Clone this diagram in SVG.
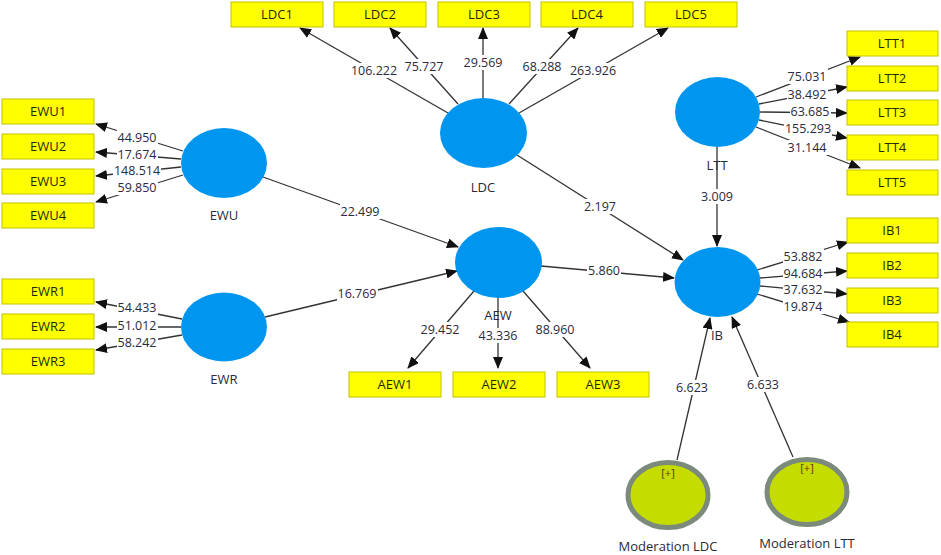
<svg xmlns="http://www.w3.org/2000/svg" width="941" height="555" viewBox="0 0 941 555">
<style>
.bg{fill:#ffffff}
.lv{fill:#0096f0}
.mod{fill:#c4dc00;stroke:#7b8a7a;stroke-width:5}
.box{fill:#ffff00;stroke:#c2c200;stroke-width:1}
.bt{font-family:"Open Sans","Noto Sans",sans-serif;font-size:13px;fill:#1e2a10;text-anchor:middle}
.nt{font-family:"Open Sans","Noto Sans",sans-serif;font-size:13px;fill:#2a2a3a;text-anchor:middle}
.num{font-family:"Open Sans","Noto Sans",sans-serif;font-size:12.5px;fill:#2a2a40;text-anchor:middle}
.lb{fill:#ffffff}
.pl{font-family:"Open Sans","Noto Sans",sans-serif;font-size:11px;fill:#5a3a10;text-anchor:middle}
.ln{stroke:#333333;stroke-width:1.3;fill:none;marker-end:url(#ah)}
</style>
<defs>
<marker id="ah" markerWidth="12" markerHeight="10" refX="11" refY="5" orient="auto" markerUnits="userSpaceOnUse">
<path d="M0,0 L12,5 L0,10 Z" fill="#111111"/>
</marker>
</defs>
<rect class="bg" x="0" y="0" width="941" height="555"/>

<g id="connectors">
<!-- LDC indicators -->
<line class="ln" x1="448" y1="113" x2="300" y2="28"/>
<line class="ln" x1="458" y1="104" x2="390" y2="28"/>
<line class="ln" x1="483" y1="98" x2="483" y2="28"/>
<line class="ln" x1="509" y1="104" x2="578" y2="28"/>
<line class="ln" x1="519" y1="113" x2="668" y2="28"/>
<!-- EWU indicators -->
<line class="ln" x1="183" y1="151" x2="96" y2="124"/>
<line class="ln" x1="181" y1="159" x2="96" y2="152"/>
<line class="ln" x1="181" y1="167" x2="96" y2="176"/>
<line class="ln" x1="183" y1="175" x2="96" y2="202"/>
<!-- EWR indicators -->
<line class="ln" x1="182" y1="319" x2="96" y2="302"/>
<line class="ln" x1="181" y1="327" x2="96" y2="327"/>
<line class="ln" x1="182" y1="335" x2="96" y2="350"/>
<!-- LTT indicators -->
<line class="ln" x1="756" y1="97" x2="860" y2="57"/>
<line class="ln" x1="759" y1="104" x2="847" y2="87"/>
<line class="ln" x1="760" y1="112" x2="847" y2="113"/>
<line class="ln" x1="759" y1="120" x2="847" y2="138"/>
<line class="ln" x1="756" y1="127" x2="860" y2="168"/>
<!-- IB indicators -->
<line class="ln" x1="757" y1="270" x2="848" y2="242"/>
<line class="ln" x1="760" y1="278" x2="847" y2="271"/>
<line class="ln" x1="760" y1="286" x2="847" y2="294"/>
<line class="ln" x1="757" y1="294" x2="849" y2="322"/>
<!-- AEW indicators -->
<line class="ln" x1="474" y1="291" x2="408" y2="368"/>
<line class="ln" x1="498" y1="298" x2="498" y2="368"/>
<line class="ln" x1="523" y1="291" x2="590" y2="368"/>
<!-- structural paths -->
<line class="ln" x1="263" y1="177" x2="458" y2="247"/>
<line class="ln" x1="265" y1="317" x2="457" y2="271"/>
<line class="ln" x1="541" y1="266" x2="674" y2="278"/>
<line class="ln" x1="517" y1="155" x2="683" y2="260"/>
<line class="ln" x1="717" y1="147" x2="717" y2="246"/>
<line class="ln" x1="677" y1="460" x2="710" y2="318"/>
<line class="ln" x1="793" y1="457" x2="732" y2="317"/>

<!-- path label backgrounds -->
<rect class="lb" x="350" y="63" width="48" height="15"/>
<rect class="lb" x="404" y="59" width="41" height="15"/>
<rect class="lb" x="463" y="55" width="41" height="15"/>
<rect class="lb" x="522" y="59" width="41" height="15"/>
<rect class="lb" x="569" y="63" width="48" height="15"/>
<rect class="lb" x="117" y="130" width="41" height="15"/>
<rect class="lb" x="117" y="147" width="41" height="15"/>
<rect class="lb" x="113" y="163" width="48" height="15"/>
<rect class="lb" x="117" y="180" width="41" height="15"/>
<rect class="lb" x="117" y="300" width="41" height="15"/>
<rect class="lb" x="117" y="318" width="41" height="15"/>
<rect class="lb" x="117" y="335" width="41" height="15"/>
<rect class="lb" x="787" y="69" width="41" height="15"/>
<rect class="lb" x="787" y="87" width="41" height="15"/>
<rect class="lb" x="790" y="104" width="41" height="15"/>
<rect class="lb" x="784" y="121" width="48" height="15"/>
<rect class="lb" x="787" y="140" width="41" height="15"/>
<rect class="lb" x="783" y="249" width="41" height="15"/>
<rect class="lb" x="783" y="266" width="41" height="15"/>
<rect class="lb" x="783" y="282" width="41" height="15"/>
<rect class="lb" x="783" y="299" width="41" height="15"/>
<rect class="lb" x="420" y="322" width="41" height="15"/>
<rect class="lb" x="478" y="328" width="41" height="15"/>
<rect class="lb" x="535" y="322" width="41" height="15"/>
<rect class="lb" x="340" y="204" width="41" height="15"/>
<rect class="lb" x="337" y="286" width="41" height="15"/>
<rect class="lb" x="587" y="263" width="34" height="15"/>
<rect class="lb" x="583" y="199" width="34" height="15"/>
<rect class="lb" x="700" y="189" width="34" height="15"/>
<rect class="lb" x="675" y="380" width="34" height="15"/>
<rect class="lb" x="746" y="377" width="34" height="15"/>

<!-- path labels -->
<text class="num" x="374" y="75">106.222</text>
<text class="num" x="424" y="71">75.727</text>
<text class="num" x="483" y="67">29.569</text>
<text class="num" x="542" y="71">68.288</text>
<text class="num" x="593" y="75">263.926</text>
<text class="num" x="137" y="142">44.950</text>
<text class="num" x="137" y="159">17.674</text>
<text class="num" x="137" y="175">148.514</text>
<text class="num" x="137" y="192">59.850</text>
<text class="num" x="137" y="312">54.433</text>
<text class="num" x="137" y="330">51.012</text>
<text class="num" x="137" y="347">58.242</text>
<text class="num" x="807" y="81">75.031</text>
<text class="num" x="807" y="99">38.492</text>
<text class="num" x="810" y="116">63.685</text>
<text class="num" x="808" y="133">155.293</text>
<text class="num" x="807" y="152">31.144</text>
<text class="num" x="803" y="261">53.882</text>
<text class="num" x="803" y="278">94.684</text>
<text class="num" x="803" y="294">37.632</text>
<text class="num" x="803" y="311">19.874</text>
<text class="num" x="440" y="334">29.452</text>
<text class="num" x="498" y="340">43.336</text>
<text class="num" x="555" y="334">88.960</text>
<text class="num" x="360" y="216">22.499</text>
<text class="num" x="357" y="298">16.769</text>
<text class="num" x="604" y="275">5.860</text>
<text class="num" x="600" y="211">2.197</text>
<text class="num" x="717" y="201">3.009</text>
<text class="num" x="692" y="392">6.623</text>
<text class="num" x="763" y="389">6.633</text>
</g>

<g id="LDC"><ellipse class="lv" cx="483.5" cy="133" rx="43.5" ry="35"/><text class="nt" x="483" y="192">LDC</text></g>
<g id="EWU"><ellipse class="lv" cx="224" cy="163" rx="43" ry="35"/><text class="nt" x="224" y="220">EWU</text></g>
<g id="EWR"><ellipse class="lv" cx="224" cy="327" rx="43" ry="34.5"/><text class="nt" x="224" y="384">EWR</text></g>
<g id="AEW"><ellipse class="lv" cx="498.5" cy="262.5" rx="43.5" ry="35.5"/><text class="nt" x="498" y="320">AEW</text></g>
<g id="LTT"><ellipse class="lv" cx="717.5" cy="112" rx="42.5" ry="35"/><text class="nt" x="717" y="170">LTT</text></g>
<g id="IB"><ellipse class="lv" cx="717.5" cy="282" rx="43" ry="35"/><text class="nt" x="717" y="340">IB</text></g>
<g id="ModerationLDC"><ellipse class="mod" cx="668" cy="495" rx="40" ry="32.5"/><text class="pl" x="668" y="477">[+]</text><text class="nt" x="668" y="551">Moderation LDC</text></g>
<g id="ModerationLTT"><ellipse class="mod" cx="807" cy="492" rx="40" ry="32.5"/><text class="pl" x="807" y="472">[+]</text><text class="nt" x="807" y="548">Moderation LTT</text></g>

<g id="LDC1"><rect class="box" x="231" y="2" width="92" height="25"/><text class="bt" x="277" y="19">LDC1</text></g>
<g id="LDC2"><rect class="box" x="334" y="2" width="92" height="25"/><text class="bt" x="380" y="19">LDC2</text></g>
<g id="LDC3"><rect class="box" x="438" y="2" width="92" height="25"/><text class="bt" x="484" y="19">LDC3</text></g>
<g id="LDC4"><rect class="box" x="541" y="2" width="92" height="25"/><text class="bt" x="587" y="19">LDC4</text></g>
<g id="LDC5"><rect class="box" x="645" y="2" width="92" height="25"/><text class="bt" x="691" y="19">LDC5</text></g>

<g id="EWU1"><rect class="box" x="2" y="99" width="92" height="25"/><text class="bt" x="48" y="116">EWU1</text></g>
<g id="EWU2"><rect class="box" x="2" y="134" width="92" height="25"/><text class="bt" x="48" y="151">EWU2</text></g>
<g id="EWU3"><rect class="box" x="2" y="169" width="92" height="25"/><text class="bt" x="48" y="186">EWU3</text></g>
<g id="EWU4"><rect class="box" x="2" y="203" width="92" height="25"/><text class="bt" x="48" y="220">EWU4</text></g>

<g id="EWR1"><rect class="box" x="2" y="279" width="92" height="25"/><text class="bt" x="48" y="296">EWR1</text></g>
<g id="EWR2"><rect class="box" x="2" y="314" width="92" height="25"/><text class="bt" x="48" y="331">EWR2</text></g>
<g id="EWR3"><rect class="box" x="2" y="349" width="92" height="25"/><text class="bt" x="48" y="366">EWR3</text></g>

<g id="LTT1"><rect class="box" x="847" y="31" width="91" height="25"/><text class="bt" x="892" y="48">LTT1</text></g>
<g id="LTT2"><rect class="box" x="847" y="66" width="91" height="25"/><text class="bt" x="892" y="83">LTT2</text></g>
<g id="LTT3"><rect class="box" x="847" y="100" width="91" height="25"/><text class="bt" x="892" y="117">LTT3</text></g>
<g id="LTT4"><rect class="box" x="847" y="135" width="91" height="25"/><text class="bt" x="892" y="152">LTT4</text></g>
<g id="LTT5"><rect class="box" x="847" y="170" width="91" height="25"/><text class="bt" x="892" y="187">LTT5</text></g>

<g id="IB1"><rect class="box" x="847" y="218" width="91" height="25"/><text class="bt" x="892" y="235">IB1</text></g>
<g id="IB2"><rect class="box" x="847" y="253" width="91" height="25"/><text class="bt" x="892" y="270">IB2</text></g>
<g id="IB3"><rect class="box" x="847" y="288" width="91" height="25"/><text class="bt" x="892" y="305">IB3</text></g>
<g id="IB4"><rect class="box" x="847" y="322" width="91" height="25"/><text class="bt" x="892" y="339">IB4</text></g>

<g id="AEW1"><rect class="box" x="349" y="372" width="92" height="25"/><text class="bt" x="395" y="389">AEW1</text></g>
<g id="AEW2"><rect class="box" x="453" y="372" width="92" height="25"/><text class="bt" x="499" y="389">AEW2</text></g>
<g id="AEW3"><rect class="box" x="557" y="372" width="92" height="25"/><text class="bt" x="603" y="389">AEW3</text></g>
</svg>
